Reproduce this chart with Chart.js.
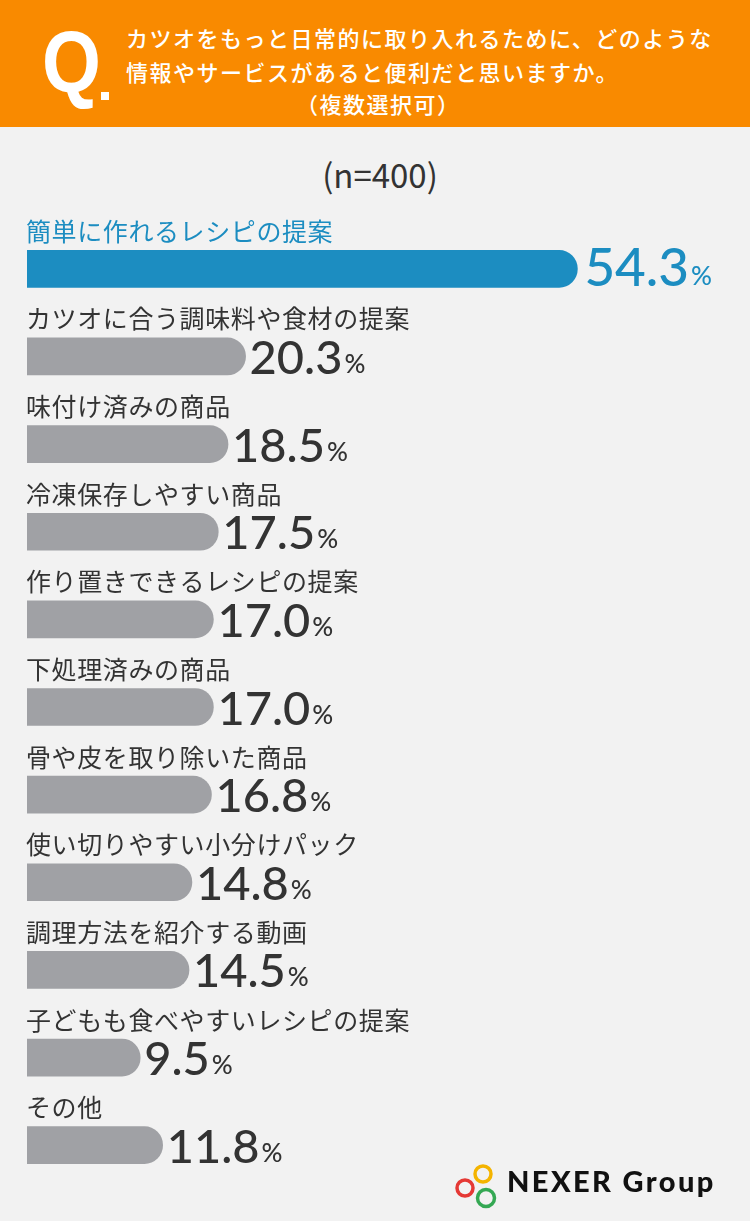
<!DOCTYPE html>
<html lang="ja">
<head>
<meta charset="utf-8">
<script src="https://cdn.jsdelivr.net/npm/chart.js@4.4.1/dist/chart.umd.min.js"></script>
<style>
  html, body { margin: 0; padding: 0; }
  body {
    width: 750px; height: 1221px; position: relative; overflow: hidden;
    background: #f2f2f2;
    font-family: "Noto Sans CJK JP", "Noto Sans", sans-serif;
  }
  #head {
    position: absolute; left: 0; top: 0; width: 750px; height: 127px;
    background: #f98a00; color: #fff;
  }
  #q {
    position: absolute; left: 42px; top: 18px;
    font-family: "Liberation Sans", sans-serif;
    font-weight: bold; font-size: 88px; line-height: 1;
    transform: scaleX(0.86); transform-origin: left top;
  }
  #qdot {
    position: absolute; left: 101px; top: 92px; width: 8px; height: 8px; background: #fff;
  }
  .ttl {
    position: absolute; font-size: 22px; line-height: 1; letter-spacing: 1.5px; white-space: nowrap;
    font-weight: 500;
  }
  #n {
    position: absolute; left: 0; width: 760px; top: 158px; text-align: center;
    font-size: 33px; color: #333; line-height: 1;
  }
  #chart { position: absolute; left: 0; top: 0; }
  #logo { position: absolute; }
  #logotxt {
    position: absolute; left: 507px; top: 1164px;
    font-family: "Lato", sans-serif; font-weight: 900; font-size: 29px;
    color: #111; letter-spacing: 2.4px; line-height: 1.2; white-space: nowrap;
  }
</style>
</head>
<body>
<div id="head">
  <div id="q">Q</div>
  <div id="qdot"></div>
  <div class="ttl" style="left:126px; top:26px;">カツオをもっと日常的に取り入れるために、どのような</div>
  <div class="ttl" style="left:126px; top:60px;">情報やサービスがあると便利だと思いますか。</div>
  <div class="ttl" style="left:296px; top:92px;">（複数選択可）</div>
</div>
<div id="n">(n=400)</div>
<canvas id="chart" width="750" height="1221"></canvas>
<svg id="logo" width="90" height="50" style="left:452px; top:1160px;">
  <circle cx="31" cy="14" r="8" fill="none" stroke="#f4b400" stroke-width="3.5"/>
  <circle cx="13" cy="28" r="8" fill="none" stroke="#e53935" stroke-width="3.5"/>
  <circle cx="34" cy="38" r="8.5" fill="none" stroke="#34a853" stroke-width="3.5"/>
</svg>
<div id="logotxt">NEXER Group</div>
<script>
const categories = [
  "簡単に作れるレシピの提案",
  "カツオに合う調味料や食材の提案",
  "味付け済みの商品",
  "冷凍保存しやすい商品",
  "作り置きできるレシピの提案",
  "下処理済みの商品",
  "骨や皮を取り除いた商品",
  "使い切りやすい小分けパック",
  "調理方法を紹介する動画",
  "子どもも食べやすいレシピの提案",
  "その他",
];
const values = [54.3, 20.3, 18.5, 17.5, 17.0, 17.0, 16.8, 14.8, 14.5, 9.5, 11.8];

const BLUE = "#1c8dc1";
const GRAY = "#a0a1a5";
const TEXT = "#333333";
const barColors = values.map((v, i) => (i === 0 ? BLUE : GRAY));
const axisMin = -2.1;

// category name above each bar, value to the right of the bar end
const barLabels = {
  id: "barLabels",
  afterDatasetsDraw(chart) {
    const ctx = chart.ctx;
    const meta = chart.getDatasetMeta(0);
    meta.data.forEach((bar, i) => {
      const top = bar.y - bar.height / 2;
      const bottom = bar.y + bar.height / 2;
      const first = i === 0;
      ctx.save();
      ctx.fillStyle = first ? BLUE : TEXT;
      ctx.font = '25px "Noto Sans CJK JP"';
      ctx.letterSpacing = "0.6px";
      ctx.textAlign = "left";
      ctx.textBaseline = "middle";
      ctx.fillText(categories[i], chart.chartArea.left - 1, top - 19);

      ctx.letterSpacing = "0px";
      ctx.textBaseline = "alphabetic";
      const num = values[i].toFixed(1);
      ctx.font = first ? '500 53px "Lato"' : '500 47px "Lato"';
      const x0 = bar.x + (first ? 7 : 4);
      ctx.fillText(num, x0, bottom - 1);
      const w = ctx.measureText(num).width;
      ctx.font = '500 26px "Lato"';
      ctx.fillText("%", x0 + w + 2, bottom - 2);
      ctx.restore();
    });
  },
};

new Chart(document.getElementById("chart"), {
  type: "bar",
  data: {
    labels: categories,
    datasets: [
      {
        data: values,
        base: axisMin,
        backgroundColor: barColors,
        barThickness: 37,
        borderRadius: 19,
        borderSkipped: "start",
      },
    ],
  },
  options: {
    indexAxis: "y",
    responsive: false,
    animation: false,
    layout: {
      padding: { left: 27, right: 117, top: 225, bottom: 32 },
    },
    scales: {
      x: { display: false, min: axisMin, max: 60 },
      y: { display: false },
    },
    plugins: {
      legend: { display: false },
      tooltip: { enabled: false },
    },
  },
  plugins: [barLabels],
});
</script>
</body>
</html>
